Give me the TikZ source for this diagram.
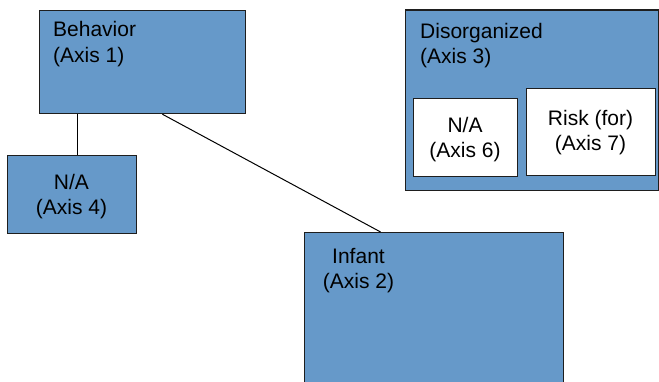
\documentclass[tikz,border=0pt]{standalone}
\usepackage{fontspec}
\setmainfont{Liberation Sans}
\definecolor{boxblue}{RGB}{102,153,201}
\definecolor{edge}{RGB}{30,30,30}
\begin{document}
\begin{tikzpicture}[x=1pt,y=-1pt,
  bluebox/.style={draw=edge,line width=1.2pt,fill=boxblue,inner sep=0pt,anchor=north west},
  whitebox/.style={draw=edge,line width=1.2pt,fill=white,inner sep=0pt,anchor=north west},
  lbl/.style={inner sep=0pt,font=\fontsize{21}{25.5}\selectfont},
  conn/.style={draw=black,line width=1pt}]
\useasboundingbox (0,0) rectangle (659,382);
\clip (0,0) rectangle (659,382);
% boxes
\node[bluebox,minimum width=206.5pt,minimum height=103pt] (beh) at (38.5,10) {};
\node[bluebox,minimum width=129pt,minimum height=78pt] (na4) at (7,155) {};
\node[bluebox,minimum width=259pt,minimum height=160pt] (inf) at (304,232) {};
\node[bluebox,minimum width=253pt,minimum height=180.5pt] (dis) at (405,9.5) {};
\node[whitebox,minimum width=104pt,minimum height=78pt] (na6) at (413,98) {};
\node[whitebox,minimum width=129pt,minimum height=87pt] (risk) at (526,88) {};
% labels
\node[lbl,anchor=north west,align=left] (tbeh) at (53,21.5) {Behavior\\(Axis 1)};
\node[lbl,anchor=north,align=center] (tna4) at (71.5,174) {N/A\\(Axis 4)};
\node[lbl,anchor=north,align=center] (tinf) at (358.5,248) {Infant\\(Axis 2)};
\node[lbl,anchor=north west,align=left] (tdis) at (420,23) {Disorganized\\(Axis 3)};
\node[lbl,anchor=north,align=center] (tna6) at (465,117) {N/A\\(Axis 6)};
\node[lbl,anchor=north,align=center] (trisk) at (590.5,110) {Risk (for)\\(Axis 7)};
% connectors
\draw[conn] ([xshift=5.5pt]na4.north) -- ([xshift=5.5pt]na4.north |- beh.south);
\draw[conn] ([xshift=20pt]beh.south) -- ([xshift=-53.5pt]inf.north);
\end{tikzpicture}
\end{document}
